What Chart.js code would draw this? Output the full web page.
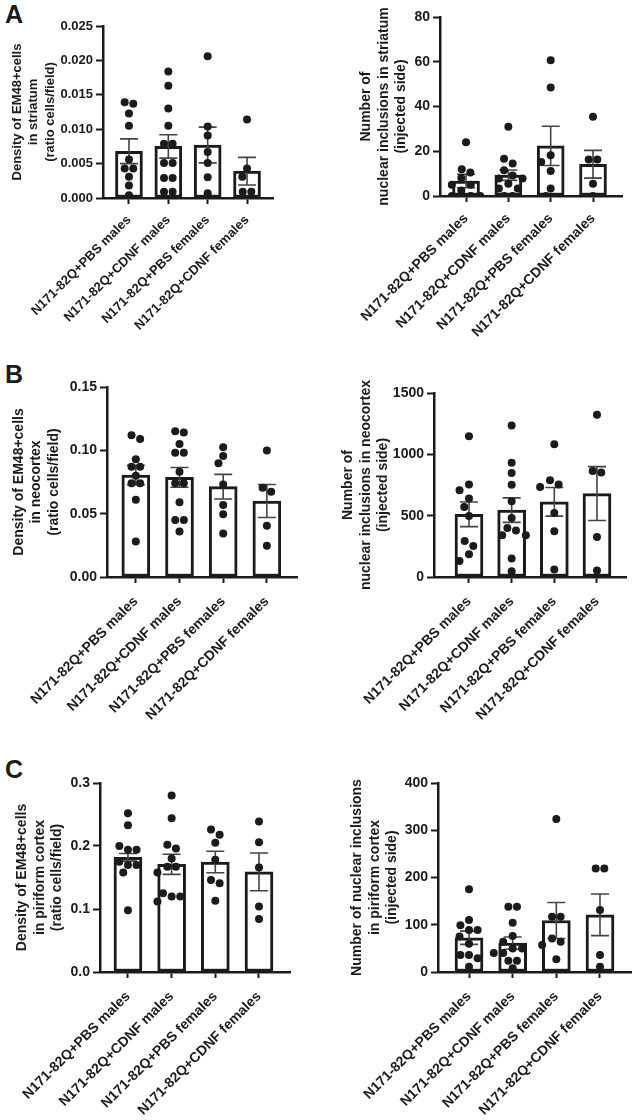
<!DOCTYPE html>
<html>
<head>
<meta charset="utf-8">
<script src="https://cdn.jsdelivr.net/npm/chart.js@4.4.1/dist/chart.umd.min.js"></script>
<style>
  body { margin: 0; background: #fff; }
  #fig { position: relative; width: 633px; height: 1120px; overflow: hidden; background: #fff; }
  #fig canvas { position: absolute; }
  .letter { position: absolute; font: bold 25px 'Liberation Sans', Arial, sans-serif; line-height: 1; color: #1b1b1b; }
</style>
</head>
<body>
<div id="fig">
  <div class="letter" style="left:5px;top:2px">A</div>
  <div class="letter" style="left:5px;top:362px">B</div>
  <div class="letter" style="left:5px;top:757px">C</div>
  <canvas id="striatumDensity" width="310" height="345" style="left:0;top:0"></canvas>
  <canvas id="striatumIncl" width="323" height="345" style="left:310px;top:0"></canvas>
  <canvas id="neocortexDensity" width="310" height="380" style="left:0;top:360px"></canvas>
  <canvas id="neocortexIncl" width="323" height="380" style="left:310px;top:360px"></canvas>
  <canvas id="piriformDensity" width="310" height="380" style="left:0;top:740px"></canvas>
  <canvas id="piriformIncl" width="323" height="380" style="left:310px;top:740px"></canvas>
</div>
<script>
const groups = ['N171-82Q+PBS males', 'N171-82Q+CDNF males', 'N171-82Q+PBS females', 'N171-82Q+CDNF females'];

// A - striatum
const striatumDensityMean = [0.0068, 0.0075, 0.0077, 0.0039];
const striatumDensitySem = [0.0018, 0.0017, 0.0026, 0.0020];
const striatumDensityPoints = [
  [0.0139, 0.0137, 0.0123, 0.0105, 0.0056, 0.0043, 0.0043, 0.0031, 0.0018, 0.0004],
  [0.0184, 0.0163, 0.0130, 0.0105, 0.0079, 0.0079, 0.0051, 0.0051, 0.0029, 0.0029, 0.0009, 0.0009],
  [0.0206, 0.0104, 0.0091, 0.0067, 0.0051, 0.0030, 0.0007],
  [0.0114, 0.0043, 0.0031, 0.0009, 0.0009]
];
const striatumDensityTicks = ['0.000', '0.005', '0.010', '0.015', '0.020', '0.025'];

const striatumInclMean = [6.7, 9.3, 22.4, 14.2];
const striatumInclSem = [3.0, 2.3, 8.8, 6.2];
const striatumInclPoints = [
  [24, 12, 10.5, 8, 5, 5, 2.5, 0, 0, 0],
  [31, 16.7, 14.5, 11.5, 9.2, 7.8, 7.8, 5.5, 3.3, 3.3, 0, 0],
  [60.7, 48.5, 18.2, 15.2, 11.2, 3.3, 0],
  [35.4, 16.3, 16.3, 5.5, 0]
];
const striatumInclTicks = ['0', '20', '40', '60', '80'];

// B - neocortex
const neocortexDensityMean = [0.0805, 0.0787, 0.0713, 0.0600];
const neocortexDensitySem = [0.0077, 0.0078, 0.0097, 0.0130];
const neocortexDensityPoints = [
  [0.112, 0.109, 0.093, 0.087, 0.087, 0.080, 0.074, 0.074, 0.061, 0.028],
  [0.115, 0.114, 0.105, 0.098, 0.098, 0.083, 0.074, 0.074, 0.059, 0.045, 0.045, 0.036],
  [0.1025, 0.0956, 0.0898, 0.0731, 0.0568, 0.0496, 0.0343],
  [0.0998, 0.0705, 0.0673, 0.0404, 0.0246]
];
const neocortexDensityTicks = ['0.00', '0.05', '0.10', '0.15'];

const neocortexInclMean = [511, 545, 613, 680];
const neocortexInclSem = [100, 100, 117, 220];
const neocortexInclPoints = [
  [1147, 755, 707, 639, 571, 497, 293, 253, 185, 130],
  [1236, 932, 848, 753, 617, 480, 400, 380, 340, 340, 150, 46],
  [1082, 788, 755, 734, 522, 372, 62],
  [1323, 864, 851, 326, 54]
];
const neocortexInclTicks = ['0', '500', '1000', '1500'];

// C - piriform cortex
const piriformDensityMean = [0.182, 0.171, 0.1746, 0.159];
const piriformDensitySem = [0.006, 0.016, 0.017, 0.030];
const piriformDensityPoints = [
  [0.252, 0.233, 0.200, 0.194, 0.194, 0.175, 0.170, 0.170, 0.158, 0.098],
  [0.280, 0.244, 0.202, 0.196, 0.180, 0.167, 0.167, 0.158, 0.125, 0.120, 0.120, 0.112],
  [0.226, 0.218, 0.205, 0.178, 0.146, 0.141, 0.113],
  [0.239, 0.206, 0.166, 0.104, 0.084]
];
const piriformDensityTicks = ['0.0', '0.1', '0.2', '0.3'];

const piriformInclMean = [72.5, 61, 109, 121];
const piriformInclSem = [14, 13, 38, 44];
const piriformInclPoints = [
  [175, 110, 99, 89, 89, 75, 60, 36, 36, 29, 11],
  [138, 138, 104, 76, 64, 50, 50, 40, 40, 24, 24, 8],
  [324, 117, 117, 71, 64, 57, 27],
  [219, 219, 131, 36, 11]
];
const piriformInclTicks = ['0', '100', '200', '300', '400'];

const INK = '#1b1b1b';
const FONT = "'Liberation Sans', Arial, sans-serif";

const errorBars = {
  id: 'errorBars',
  afterDatasetDraw(chart, args, opts) {
    if (args.index !== 0) return;
    const { ctx } = chart;
    const xs = chart.scales.x, ys = chart.scales.y;
    ctx.save();
    ctx.strokeStyle = '#444';
    ctx.lineWidth = 1.6;
    opts.sems.forEach((s, i) => {
      const m = chart.data.datasets[0].data[i].y;
      const px = xs.getPixelForValue(i);
      const top = ys.getPixelForValue(m + s);
      const bot = ys.getPixelForValue(m - s);
      ctx.beginPath();
      ctx.moveTo(px, top); ctx.lineTo(px, bot);
      ctx.moveTo(px - 9, top); ctx.lineTo(px + 9, top);
      ctx.moveTo(px - 9, bot); ctx.lineTo(px + 9, bot);
      ctx.stroke();
    });
    ctx.restore();
  }
};

// spread the dots of each group sideways so they do not overlap
function swarm(chart, points) {
  const xs = chart.scales.x, ys = chart.scales.y;
  const unit = xs.getPixelForValue(1) - xs.getPixelForValue(0);
  const d = 8.6;
  const out = [];
  points.forEach((vals, g) => {
    const placed = [];
    const free = (dx, py) => placed.every(p => Math.hypot(p.dx - dx, p.py - py) >= d);
    const sorted = [...vals].sort((a, b) => b - a);
    let i = 0;
    while (i < sorted.length) {
      const y0 = ys.getPixelForValue(sorted[i]);
      const row = [];
      while (i < sorted.length && ys.getPixelForValue(sorted[i]) - y0 < d * 0.6) { row.push(sorted[i]); i++; }
      const k = row.length;
      let chosen = null;
      if (k > 1) {
        for (let step = 0; step < 5 && !chosen; step++) {
          const gap = d * (1 + step * 0.15);
          const offs = row.map((v, j) => (j - (k - 1) / 2) * gap);
          if (row.every((v, j) => free(offs[j], ys.getPixelForValue(v)))) chosen = offs;
        }
      }
      if (chosen) {
        row.forEach((v, j) => placed.push({ dx: chosen[j], py: ys.getPixelForValue(v) }));
      } else {
        chosen = row.map(v => {
          const py = ys.getPixelForValue(v);
          let dx = 0;
          for (let s = 0; s < 60; s++) {
            const n = Math.ceil(s / 2) * d * 0.55;
            const cand = s % 2 ? -n : n;
            if (free(cand, py)) { dx = cand; break; }
          }
          placed.push({ dx, py });
          return dx;
        });
      }
      row.forEach((v, j) => out.push({ x: g + chosen[j] / unit, y: v }));
    }
  });
  chart.data.datasets[1].data = out;
  chart.update('none');
}

function panel(id, means, sems, points, ticks, title, L) {
  const canvas = document.getElementById(id);
  const xh = canvas.height - L.top - L.plotH;
  const font = { family: FONT, size: L.font, weight: 'bold', lineHeight: 1.27 };
  const chart = new Chart(canvas, {
    type: 'bar',
    data: {
      datasets: [
        {
          type: 'bar',
          data: means.map((m, i) => ({ x: i, y: m })),
          backgroundColor: '#fff',
          borderColor: INK,
          borderWidth: 3,
          borderSkipped: false,
          barThickness: L.bar,
          order: 2
        },
        {
          type: 'scatter',
          data: [],
          pointRadius: 4,
          pointBackgroundColor: INK,
          pointBorderWidth: 0,
          order: 1
        }
      ]
    },
    options: {
      responsive: false,
      animation: false,
      devicePixelRatio: 1,
      layout: { autoPadding: false, padding: { left: 0, top: L.top, right: L.right, bottom: 0 } },
      plugins: { legend: { display: false }, tooltip: { enabled: false }, errorBars: { sems } },
      scales: {
        x: {
          type: 'linear',
          min: L.xMin,
          max: L.xMax,
          offset: false,
          afterBuildTicks: s => { s.ticks = groups.map((g, i) => ({ value: i })); },
          afterFit: s => { s.height = xh; },
          grid: { offset: false, drawOnChartArea: false, tickLength: 6, tickWidth: 2, tickColor: INK },
          border: { color: INK, width: 2.5 },
          ticks: {
            autoSkip: false, minRotation: 45, maxRotation: 45, padding: L.xPad,
            color: INK, font, callback: (v, i) => groups[i]
          }
        },
        y: {
          min: 0,
          max: parseFloat(ticks[ticks.length - 1]),
          afterBuildTicks: s => { s.ticks = ticks.map(t => ({ value: parseFloat(t) })); },
          afterFit: s => { s.width = L.yw; },
          grid: { drawOnChartArea: false, tickLength: 7, tickWidth: 2, tickColor: INK },
          border: { color: INK, width: 2.5 },
          ticks: { padding: 3, color: INK, font, callback: (v, i) => ticks[i] },
          title: { display: true, text: title, color: INK, font, padding: { top: L.titlePad, bottom: 0 } }
        }
      }
    },
    plugins: [errorBars]
  });
  swarm(chart, points);
  return chart;
}

panel('striatumDensity', striatumDensityMean, striatumDensitySem, striatumDensityPoints, striatumDensityTicks,
  ['Density of EM48+cells', 'in striatum', '(ratio cells/field)'],
  { yw: 103, top: 26, plotH: 172, right: 37, xMin: -0.66, xMax: 3.66, bar: 27, font: 13, titlePad: 8.7, xPad: 8 });
panel('striatumIncl', striatumInclMean, striatumInclSem, striatumInclPoints, striatumInclTicks,
  ['Number of', 'nuclear inclusions in striatum', '(injected side)'],
  { yw: 130, top: 17, plotH: 179, right: 11, xMin: -0.615, xMax: 3.685, bar: 27, font: 14, titlePad: 47, xPad: 8 });
panel('neocortexDensity', neocortexDensityMean, neocortexDensitySem, neocortexDensityPoints, neocortexDensityTicks,
  ['Density of EM48+cells', 'in neocortex', '(ratio cells/field)'],
  { yw: 107, top: 27, plotH: 190, right: 13, xMin: -0.66, xMax: 3.69, bar: 28, font: 14, titlePad: 9.8, xPad: 10 });
panel('neocortexIncl', neocortexInclMean, neocortexInclSem, neocortexInclPoints, neocortexInclTicks,
  ['Number of', 'nuclear inclusions in neocortex', '(injected side)'],
  { yw: 124, top: 33, plotH: 184, right: 7, xMin: -0.82, xMax: 3.68, bar: 28, font: 14, titlePad: 29, xPad: 10 });
panel('piriformDensity', piriformDensityMean, piriformDensitySem, piriformDensityPoints, piriformDensityTicks,
  ['Density of EM48+cells', 'in piriform cortex', '(ratio cells/field)'],
  { yw: 100, top: 43, plotH: 189, right: 20, xMin: -0.64, xMax: 3.71, bar: 28, font: 14, titlePad: 13, xPad: 10 });
panel('piriformIncl', piriformInclMean, piriformInclSem, piriformInclPoints, piriformInclTicks,
  ['Number of nuclear inclusions', 'in piriform cortex', '(injected side)'],
  { yw: 128, top: 43, plotH: 189, right: 2, xMin: -0.71, xMax: 3.71, bar: 28, font: 14, titlePad: 38, xPad: 10 });
</script>
</body>
</html>
